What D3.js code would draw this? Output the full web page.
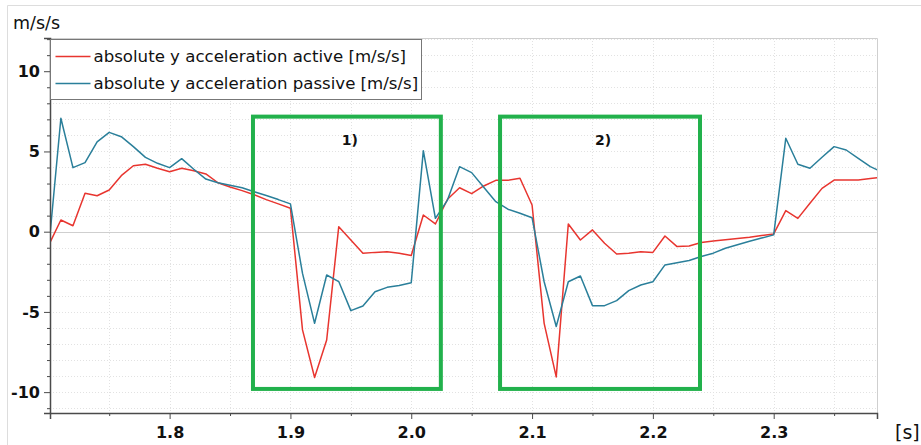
<!DOCTYPE html>
<html>
<head>
<meta charset="utf-8">
<script src="https://cdn.jsdelivr.net/npm/d3@7"></script>
<style>
    body { margin: 0; background: #fff; }
    text { font-family: "DejaVu Sans", sans-serif; fill: #111; }
</style>
</head>
<body>
<svg id="chart" width="921" height="445"></svg>
<script>
// sample times [s]
var time = [1.70, 1.71, 1.72, 1.73, 1.74, 1.75, 1.76, 1.77, 1.78, 1.79,
            1.80, 1.81, 1.82, 1.83, 1.84, 1.85, 1.86, 1.87, 1.88, 1.89,
            1.90, 1.91, 1.92, 1.93, 1.94, 1.95, 1.96, 1.97, 1.98, 1.99,
            2.00, 2.01, 2.02, 2.03, 2.04, 2.05, 2.06, 2.07, 2.08, 2.09,
            2.10, 2.11, 2.12, 2.13, 2.14, 2.15, 2.16, 2.17, 2.18, 2.19,
            2.20, 2.21, 2.22, 2.23, 2.24, 2.25, 2.26, 2.27, 2.28, 2.29,
            2.30, 2.31, 2.32, 2.33, 2.34, 2.35, 2.36, 2.37, 2.38, 2.39];

// absolute y acceleration active [m/s/s]
var activeAcc = [-0.83, 0.73, 0.37, 2.39, 2.24, 2.6, 3.49, 4.11, 4.2, 3.95,
                 3.74, 3.95, 3.8, 3.6, 3.05, 2.78, 2.56, 2.3, 2.0, 1.73,
                 1.46, -6.12, -9.09, -6.75, 0.31, -0.52, -1.35, -1.29, -1.25, -1.35,
                 -1.49, 1.04, 0.48, 2.02, 2.74, 2.37, 2.85, 3.2, 3.2, 3.33,
                 1.66, -5.71, -9.05, 0.48, -0.52, 0.11, -0.72, -1.39, -1.35, -1.25,
                 -1.29, -0.27, -0.93, -0.89, -0.68, -0.58, -0.5, -0.42, -0.34, -0.24,
                 -0.14, 1.31, 0.83, 1.77, 2.7, 3.22, 3.22, 3.22, 3.31, 3.4];

// absolute y acceleration passive [m/s/s]
var passiveAcc = [-1.0, 7.07, 3.99, 4.3, 5.6, 6.19, 5.92, 5.3, 4.63, 4.26,
                  3.99, 4.55, 3.89, 3.28, 3.05, 2.89, 2.74, 2.49, 2.25, 2.0,
                  1.73, -2.6, -5.71, -2.7, -3.11, -4.92, -4.63, -3.74, -3.47, -3.36,
                  -3.18, 5.05, 0.83, 1.97, 4.05, 3.68, 2.77, 1.87, 1.4, 1.15,
                  0.87, -3.12, -5.91, -3.12, -2.76, -4.61, -4.61, -4.3, -3.67, -3.32,
                  -3.12, -2.07, -1.93, -1.8, -1.55, -1.34, -1.03, -0.82, -0.6, -0.4,
                  -0.2, 5.82, 4.2, 3.95, 4.64, 5.3, 5.09, 4.57, 4.05, 3.7];

var seriesNames = ["absolute y acceleration active [m/s/s]",
                   "absolute y acceleration passive [m/s/s]"];
var seriesColors = ["#e8352f", "#2a7f9a"];

var xTicks = [1.8, 1.9, 2.0, 2.1, 2.2, 2.3];
var yTicks = [-10, -5, 0, 5, 10];

// highlighted windows: time range and value range
var boxLabels = ["1)", "2)"];
var boxTime = [[1.869, 2.0245], [2.0735, 2.239]];
var boxValue = [-9.8, 7.17];

var margin = {top: 38, right: 44, bottom: 32, left: 50};
var width = 921 - margin.left - margin.right;
var height = 445 - margin.top - margin.bottom;

var svg = d3.select("#chart");

// outer frame
svg.append("path")
    .attr("d", "M7.5,445V5.5H921")
    .attr("fill", "none")
    .attr("stroke", "#ddd");

var x = d3.scaleLinear().domain([1.701, 2.3855]).range([0, width]);
var y = d3.scaleLinear().domain([-11.3, 12.07]).range([height, 0]);

var g = svg.append("g")
    .attr("transform", "translate(" + margin.left + "," + margin.top + ")");

g.append("clipPath").attr("id", "clip")
    .append("rect").attr("width", width).attr("height", height);

// grid
var yMinor = d3.range(-11, 13);
var xMinor = d3.range(1.75, 2.36, 0.05);

g.append("g").selectAll("line").data(yMinor).enter().append("line")
    .attr("x1", 0).attr("x2", width)
    .attr("y1", function (d) { return Math.round(y(d)) + 0.5; })
    .attr("y2", function (d) { return Math.round(y(d)) + 0.5; })
    .attr("stroke", function (d) { return d === 0 ? "#cfcfcf" : "#e2e2e2"; })
    .attr("stroke-dasharray", function (d) { return d === 0 ? null : "1,2"; });

g.append("g").selectAll("line").data(xMinor).enter().append("line")
    .attr("y1", 0).attr("y2", height)
    .attr("x1", function (d) { return Math.round(x(d)) + 0.5; })
    .attr("x2", function (d) { return Math.round(x(d)) + 0.5; })
    .attr("stroke", "#e2e2e2")
    .attr("stroke-dasharray", "1,2");

// plot border (top, right)
g.append("path")
    .attr("d", "M0," + 0.5 + "H" + (width + 0.5) + "V" + height)
    .attr("fill", "none")
    .attr("stroke", "#cfcfcf");

// lines
var series = [activeAcc, passiveAcc];
var line = d3.line()
    .x(function (d, i) { return x(time[i]); })
    .y(function (d) { return y(d); });

g.append("g").attr("clip-path", "url(#clip)")
    .selectAll("path").data(series).enter().append("path")
    .attr("d", line)
    .attr("fill", "none")
    .attr("stroke", function (d, i) { return seriesColors[i]; })
    .attr("stroke-width", 1.5)
    .attr("stroke-linejoin", "round");

// axes
var yAxis = g.append("g")
    .call(d3.axisLeft(y).tickValues(yTicks).tickSize(6).tickPadding(4)
        .tickFormat(function (d) { return String(d); }));
var yMinorAxis = g.append("g")
    .call(d3.axisLeft(y).tickValues(yMinor.filter(function (d) { return d % 5 !== 0; })).tickSize(3).tickFormat(""));
var xAxis = g.append("g")
    .attr("transform", "translate(0," + height + ")")
    .call(d3.axisBottom(x).tickValues(xTicks).tickSize(6).tickPadding(8).tickFormat(d3.format(".1f")));
var xMinorAxis = g.append("g")
    .attr("transform", "translate(0," + height + ")")
    .call(d3.axisBottom(x).tickValues([1.75, 1.85, 1.95, 2.05, 2.15, 2.25, 2.35]).tickSize(3).tickFormat(""));

[yAxis, yMinorAxis, xAxis, xMinorAxis].forEach(function (a) {
    a.select(".domain").attr("stroke", "#4a4a4a").attr("stroke-width", 1.5);
    a.selectAll(".tick line").attr("stroke", "#4a4a4a");
    a.selectAll("text")
        .style("font-family", "'DejaVu Sans', sans-serif")
        .style("font-size", "16px")
        .style("font-weight", "bold")
        .attr("fill", "#111");
});
yMinorAxis.select(".domain").remove();
xMinorAxis.select(".domain").remove();

// highlight boxes
var boxes = g.append("g").selectAll("g").data(boxTime).enter().append("g");
boxes.append("rect")
    .attr("x", function (d) { return x(d[0]); })
    .attr("y", y(boxValue[1]))
    .attr("width", function (d) { return x(d[1]) - x(d[0]); })
    .attr("height", y(boxValue[0]) - y(boxValue[1]))
    .attr("fill", "none")
    .attr("stroke", "#22b14c")
    .attr("stroke-width", 4);
boxes.append("text")
    .attr("x", function (d) { return (x(d[0]) + x(d[1])) / 2 + 3; })
    .attr("y", y(boxValue[1]) + 28)
    .attr("text-anchor", "middle")
    .style("font-size", "14px")
    .style("font-weight", "bold")
    .text(function (d, i) { return boxLabels[i]; });

// legend
var legend = g.append("g").attr("transform", "translate(0.5,1.5)");
legend.append("rect")
    .attr("width", 371).attr("height", 60)
    .attr("fill", "#fff")
    .attr("stroke", "#777");
var items = legend.selectAll("g.item").data(seriesNames).enter().append("g")
    .attr("class", "item")
    .attr("transform", function (d, i) { return "translate(0," + (17 + i * 27) + ")"; });
items.append("line")
    .attr("x1", 5).attr("x2", 40)
    .attr("stroke", function (d, i) { return seriesColors[i]; })
    .attr("stroke-width", 1.4);
items.append("text")
    .attr("x", 43).attr("dy", "0.35em")
    .style("font-size", "16.6px")
    .text(function (d) { return d; });

// unit labels
svg.append("text").attr("x", 13).attr("y", 29)
    .style("font-size", "17.5px").text("m/s/s");
svg.append("text").attr("x", 895).attr("y", 439)
    .style("font-size", "19px").text("[s]");
</script>
</body>
</html>
